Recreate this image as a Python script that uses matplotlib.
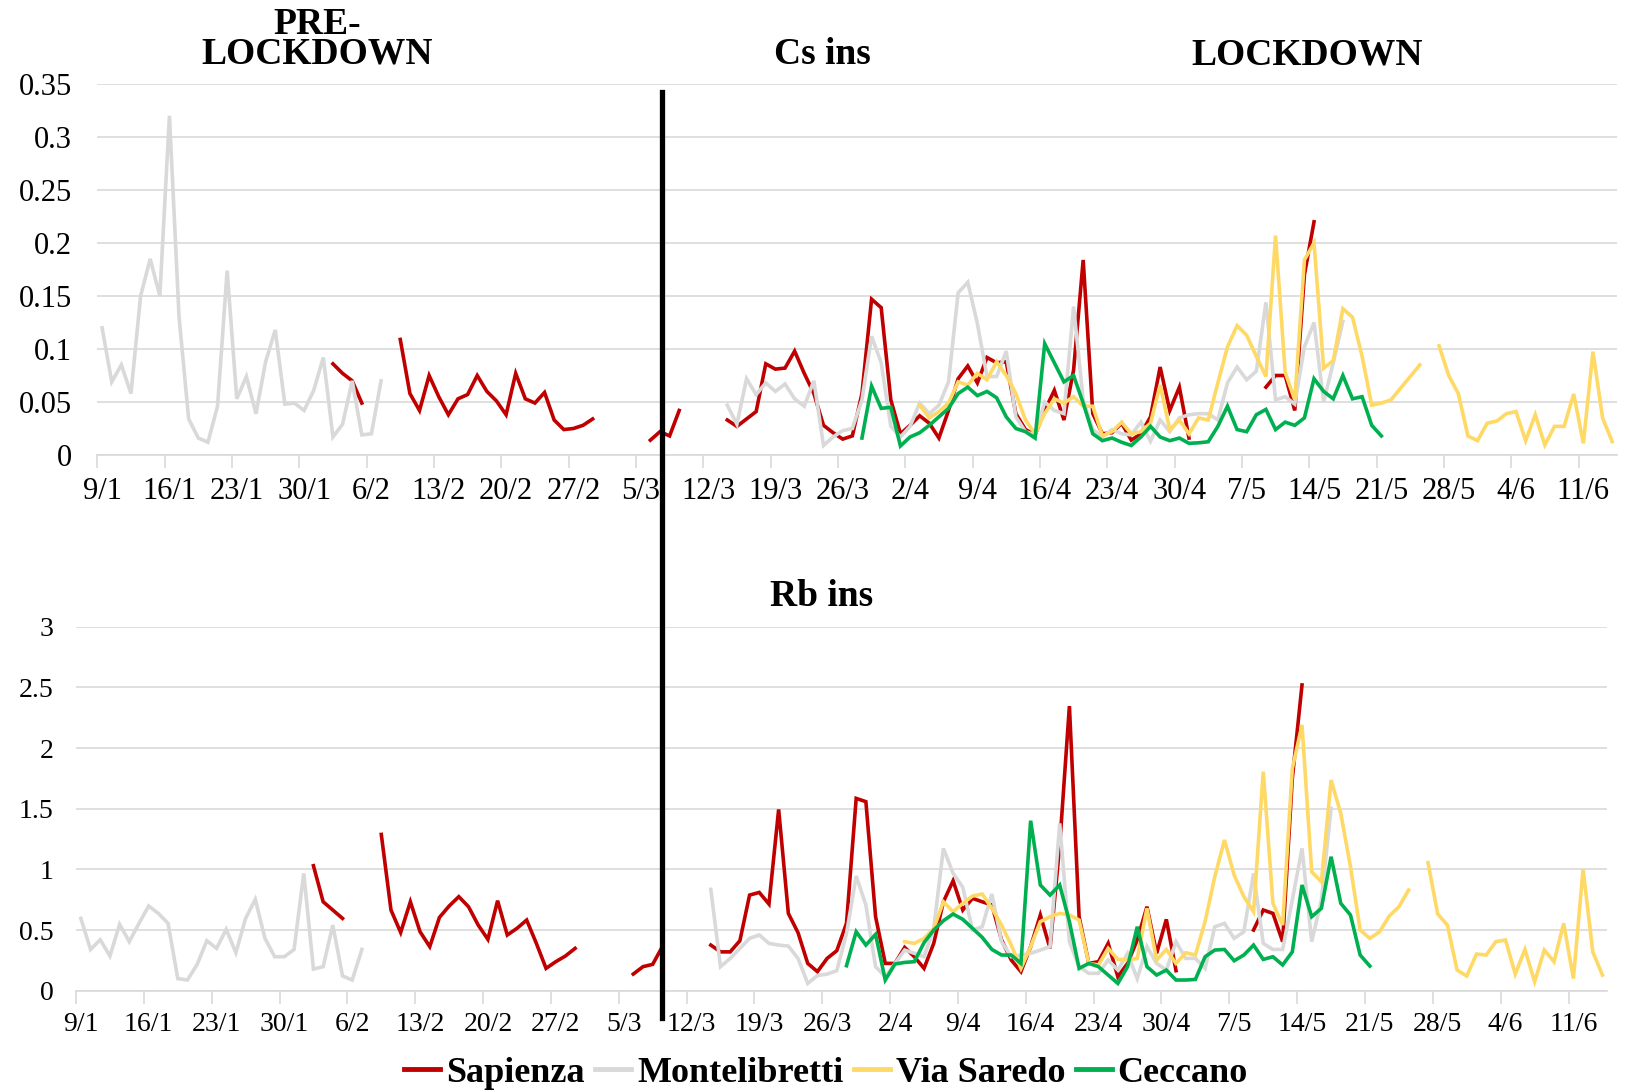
import numpy as np
import matplotlib
matplotlib.use("Agg")
import matplotlib.pyplot as plt
from matplotlib.lines import Line2D

plt.rcParams['font.family'] = ['Liberation Serif', 'DejaVu Serif']

# daily categories 9/1 .. 14/6 (158 days), ticks every 7 days
n_days = 158
tick_labels = ["9/1", "16/1", "23/1", "30/1", "6/2", "13/2", "20/2", "27/2", "5/3",
               "12/3", "19/3", "26/3", "2/4", "9/4", "16/4", "23/4", "30/4", "7/5",
               "14/5", "21/5", "28/5", "4/6", "11/6"]

# series are stored as {start day index: values}, gaps are missing days
cs_sapienza = {
    24: [0.086, 0.077, 0.070, 0.049],
    31: [0.109, 0.058, 0.042, 0.075, 0.055, 0.038, 0.053, 0.057, 0.075, 0.060, 0.051,
         0.038, 0.077, 0.053, 0.049, 0.059, 0.033, 0.024, 0.025, 0.028, 0.034],
    57: [0.014, 0.022, 0.018, 0.042],
    65: [0.033, 0.027, 0.034, 0.041, 0.086, 0.081, 0.082, 0.098, 0.077, 0.058, 0.028,
         0.021, 0.015, 0.018, 0.058, 0.147, 0.139, 0.052, 0.020, 0.028, 0.037, 0.030,
         0.016, 0.042, 0.072, 0.084, 0.068, 0.092, 0.087, 0.088, 0.039, 0.024, 0.019,
         0.042, 0.061, 0.033, 0.080, 0.184, 0.039, 0.020, 0.021, 0.030, 0.014, 0.020,
         0.036, 0.083, 0.042, 0.064, 0.016],
    121: [0.064, 0.075, 0.075, 0.042, 0.170, 0.220],
}
cs_montelibretti = {
    0: [0.120, 0.069, 0.085, 0.058, 0.150, 0.185, 0.150, 0.320, 0.130, 0.034, 0.016,
        0.012, 0.046, 0.174, 0.053, 0.074, 0.039, 0.088, 0.118, 0.048, 0.049, 0.042,
        0.061, 0.092, 0.017, 0.029, 0.070, 0.019, 0.020, 0.070],
    65: [0.047, 0.029, 0.072, 0.057, 0.068, 0.060, 0.067, 0.053, 0.046, 0.070, 0.009,
         0.017, 0.023, 0.025, 0.052, 0.112, 0.087, 0.027, 0.017, 0.027, 0.049, 0.039,
         0.047, 0.069, 0.153, 0.163, 0.124, 0.074, 0.074, 0.098, 0.036, 0.022, 0.019,
         0.050, 0.042, 0.039, 0.140, 0.052, 0.024, 0.017, 0.024, 0.020, 0.019, 0.031,
         0.013, 0.033, 0.022, 0.035, 0.038, 0.039, 0.039, 0.033, 0.068, 0.083, 0.071,
         0.079, 0.144, 0.052, 0.055, 0.048, 0.102, 0.125, 0.050, 0.087, 0.126],
}
cs_saredo = {
    85: [0.047, 0.035, 0.041, 0.049, 0.069, 0.066, 0.077, 0.071, 0.088, 0.075, 0.058,
         0.033, 0.020, 0.039, 0.053, 0.049, 0.055, 0.046, 0.046, 0.018, 0.022, 0.031,
         0.020, 0.022, 0.030, 0.066, 0.024, 0.033, 0.020, 0.035, 0.033, 0.068, 0.102,
         0.122, 0.113, 0.093, 0.074, 0.207, 0.078, 0.052, 0.184, 0.200, 0.082, 0.089,
         0.138, 0.130, 0.093, 0.047, 0.049, 0.052, 0.063, 0.074, 0.085],
    139: [0.103, 0.075, 0.058, 0.018, 0.0135, 0.030, 0.032, 0.039, 0.041, 0.0135, 0.038,
          0.0094, 0.027, 0.027, 0.0575, 0.011, 0.0975, 0.035, 0.0126],
}
cs_ceccano = {
    79: [0.016, 0.065, 0.044, 0.045, 0.0085, 0.017, 0.021, 0.028, 0.036, 0.044, 0.058,
         0.064, 0.056, 0.060, 0.054, 0.036, 0.025, 0.022, 0.016, 0.105, 0.087, 0.069,
         0.075, 0.049, 0.020, 0.0135, 0.016, 0.012, 0.009, 0.017, 0.027, 0.017, 0.0135,
         0.016, 0.011, 0.0115, 0.0125, 0.027, 0.046, 0.024, 0.022, 0.038, 0.043, 0.024,
         0.031, 0.028, 0.035, 0.072, 0.060, 0.053, 0.075, 0.053, 0.055, 0.028, 0.018],
}

rb_sapienza = {
    24: [1.03, 0.733, 0.665, 0.596],
    31: [1.288, 0.665, 0.48, 0.733, 0.486, 0.363, 0.604, 0.698, 0.775, 0.692, 0.541,
         0.423, 0.742, 0.459, 0.514, 0.582, 0.39, 0.184, 0.239, 0.286, 0.349],
    57: [0.137, 0.198, 0.217, 0.363],
    65: [0.376, 0.32, 0.32, 0.412, 0.788, 0.81, 0.714, 1.494, 0.637, 0.478, 0.225,
         0.157, 0.266, 0.33, 0.555, 1.585, 1.558, 0.61, 0.225, 0.225, 0.357, 0.28,
         0.184, 0.39, 0.733, 0.906, 0.665, 0.761, 0.733, 0.706, 0.418, 0.253, 0.157,
         0.363, 0.624, 0.349, 1.2, 2.346, 0.61, 0.225, 0.239, 0.39, 0.115, 0.225,
         0.418, 0.692, 0.308, 0.588, 0.165],
    121: [0.5, 0.665, 0.637, 0.404, 1.75, 2.52],
}
rb_montelibretti = {
    0: [0.596, 0.34, 0.42, 0.286, 0.547, 0.404, 0.555, 0.698, 0.637, 0.555, 0.10,
        0.088, 0.217, 0.412, 0.349, 0.505, 0.313, 0.596, 0.753, 0.431, 0.28, 0.28,
        0.34, 0.967, 0.178, 0.198, 0.541, 0.121, 0.088, 0.34],
    65: [0.835, 0.198, 0.266, 0.349, 0.431, 0.459, 0.39, 0.376, 0.368, 0.266, 0.06,
         0.125, 0.137, 0.165, 0.47, 0.945, 0.706, 0.198, 0.115, 0.225, 0.335, 0.308,
         0.28, 0.514, 1.173, 0.967, 0.852, 0.5, 0.527, 0.797, 0.404, 0.28, 0.294,
         0.308, 0.335, 0.363, 1.379, 0.404, 0.198, 0.143, 0.143, 0.253, 0.17, 0.308,
         0.10, 0.363, 0.225, 0.17, 0.404, 0.266, 0.266, 0.184, 0.527, 0.555, 0.431,
         0.486, 0.967, 0.39, 0.34, 0.34, 0.747, 1.173, 0.404, 0.747, 1.503],
}
rb_saredo = {
    85: [0.404, 0.39, 0.431, 0.514, 0.733, 0.651, 0.72, 0.78, 0.797, 0.679, 0.541,
         0.376, 0.184, 0.363, 0.569, 0.61, 0.637, 0.624, 0.582, 0.225, 0.212, 0.349,
         0.258, 0.253, 0.266, 0.679, 0.253, 0.34, 0.225, 0.313, 0.294, 0.571, 0.94,
         1.242, 0.953, 0.775, 0.651, 1.805, 0.72, 0.541, 1.832, 2.19, 0.98, 0.898,
         1.736, 1.461, 1.022, 0.5, 0.431, 0.486, 0.615, 0.692, 0.83],
    139: [1.055, 0.632, 0.541, 0.17, 0.121, 0.302, 0.294, 0.404, 0.418, 0.137, 0.34,
          0.074, 0.335, 0.239, 0.555, 0.10, 1.0, 0.32, 0.129],
}
rb_ceccano = {
    79: [0.206, 0.486, 0.376, 0.464, 0.088, 0.22, 0.233, 0.239, 0.396, 0.5, 0.577,
         0.632, 0.588, 0.514, 0.44, 0.34, 0.294, 0.294, 0.225, 1.401, 0.871, 0.788,
         0.871, 0.569, 0.184, 0.225, 0.198, 0.129, 0.06, 0.198, 0.527, 0.198, 0.129,
         0.17, 0.088, 0.088, 0.093, 0.28, 0.335, 0.34, 0.247, 0.294, 0.376, 0.258,
         0.28, 0.212, 0.32, 0.871, 0.61, 0.679, 1.104, 0.72, 0.624, 0.294, 0.203],
}

names = ["Sapienza", "Montelibretti", "Via Saredo", "Ceccano"]
colors = ["#C00000", "#D9D9D9", "#FFD966", "#00B050"]


def to_array(segments):
    arr = np.full(n_days, np.nan)
    for start, vals in segments.items():
        arr[start:start + len(vals)] = vals
    return arr


def style_axis(ax, ymax, ystep, fs_y, fs_x, ypad, xpad):
    ax.set_xlim(0, n_days)
    ax.set_ylim(0, ymax)
    yt = np.arange(0, ymax + ystep / 2, ystep)
    ax.set_yticks(yt)
    ax.set_yticklabels(["%g" % v for v in yt])
    # labels centred on the category, tick marks on the boundaries
    ax.set_xticks(np.arange(0, 7 * len(tick_labels), 7) + 0.5)
    ax.set_xticklabels(tick_labels)
    ax.set_xticks(np.arange(0, 7 * len(tick_labels), 7), minor=True)
    ax.grid(axis="y", color="#D9D9D9", lw=1.2)
    ax.set_axisbelow(True)
    for s in ["top", "right", "left"]:
        ax.spines[s].set_visible(False)
    ax.spines["bottom"].set_color("#D9D9D9")
    ax.spines["bottom"].set_linewidth(1.2)
    ax.tick_params(axis="y", length=0, labelsize=fs_y, pad=ypad)
    ax.tick_params(axis="x", which="major", length=0, labelsize=fs_x, pad=xpad)
    ax.tick_params(axis="x", which="minor", length=9, width=1.2, color="#D9D9D9")


fig = plt.figure(figsize=(16.29, 10.92), dpi=100)
ax1 = fig.add_axes([97.3 / 1629, 1 - 455 / 1092, (1617 - 97.3) / 1629, 371 / 1092])
ax2 = fig.add_axes([76 / 1629, 1 - 990.7 / 1092, (1607.3 - 76) / 1629, 364 / 1092])

x = np.arange(n_days) + 0.5
for ax, group in [(ax1, [cs_sapienza, cs_montelibretti, cs_saredo, cs_ceccano]),
                  (ax2, [rb_sapienza, rb_montelibretti, rb_saredo, rb_ceccano])]:
    for k, seg in enumerate(group):
        ax.plot(x, to_array(seg), color=colors[k], lw=2.6, zorder=3 + k,
                solid_joinstyle="miter")

style_axis(ax1, 0.35, 0.05, 22, 22, 18, 16)
style_axis(ax2, 3.0, 0.5, 20, 20, 16, 15)

# lockdown separator
fig.add_artist(Line2D([662.3 / 1629] * 2, [1 - 92 / 1092, 1 - 1018 / 1092],
                      color="black", lw=3.8, zorder=10))

tf = dict(fontsize=27, fontweight="bold", ha="center", va="center")
fig.text(317 / 1629, 1 - 39 / 1092, "PRE-\nLOCKDOWN", linespacing=0.78, **tf)
fig.text(822 / 1629, 1 - 55 / 1092, "Cs ins", **tf)
fig.text(1307 / 1629, 1 - 55 / 1092, "LOCKDOWN", **tf)
fig.text(822 / 1629, 1 - 596 / 1092, "Rb ins", **tf)

handles = [Line2D([], [], color=c, lw=3.5) for c in colors]
fig.legend(handles, names, loc="center", bbox_to_anchor=(826 / 1629, 1 - 1073 / 1092),
           ncol=4, frameon=False, handlelength=1.0, handletextpad=0.15,
           columnspacing=0.3, prop={"size": 26, "weight": "bold"})

fig.savefig("out.png", dpi=100)
